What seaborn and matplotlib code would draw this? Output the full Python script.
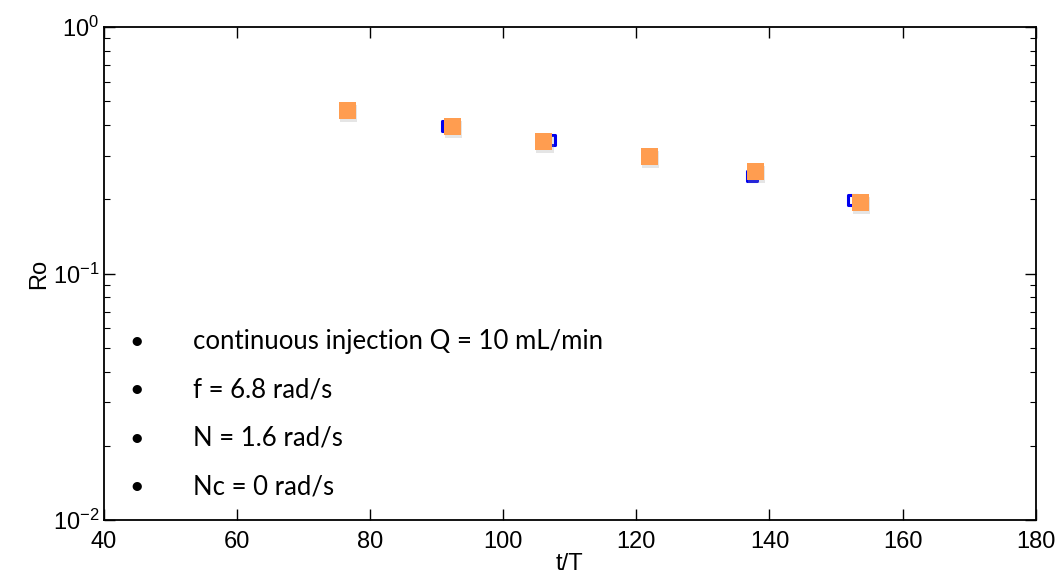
import numpy as np
import pandas as pd
import matplotlib
matplotlib.use("Agg")
import matplotlib.pyplot as plt
import matplotlib.patheffects as pe
from matplotlib.ticker import LogLocator, NullFormatter
import seaborn as sns

# values
t_blue = [76.6, 91.6, 107.0, 122.0, 137.4, 152.6]
ro_blue = [0.457, 0.397, 0.347, 0.298, 0.248, 0.199]
t_orange = [76.6, 92.4, 106.1, 122.0, 137.9, 153.7]
ro_orange = [0.457, 0.395, 0.343, 0.298, 0.259, 0.195]
notes = ["continuous injection Q = 10 mL/min",
         "f = 6.8 rad/s",
         "N = 1.6 rad/s",
         "Nc = 0 rad/s"]

sns.set_style("ticks")
plt.rcParams["font.family"] = ["Liberation Sans", "DejaVu Sans"]
plt.rcParams["mathtext.fontset"] = "custom"
plt.rcParams["mathtext.rm"] = "Liberation Sans"
plt.rcParams["mathtext.it"] = "Liberation Sans:italic"
plt.rcParams["text.color"] = "black"
plt.rcParams["axes.labelcolor"] = "black"
plt.rcParams["xtick.color"] = "black"
plt.rcParams["ytick.color"] = "black"

df_b = pd.DataFrame({"t": t_blue, "ro": ro_blue})
df_o = pd.DataFrame({"t": t_orange, "ro": ro_orange})

fig = plt.figure(figsize=(10.59, 5.8), dpi=100)
ax = fig.add_axes([0.0982, 0.1034, 0.8798, 0.85])

sns.scatterplot(data=df_b, x="t", y="ro", ax=ax, marker="s", s=50,
                facecolor="white", edgecolor="#0000ee", linewidth=2.2, zorder=3)
sc = sns.scatterplot(data=df_o, x="t", y="ro", ax=ax, marker="s", s=150,
                     color="#ff9d50", edgecolor="none", linewidth=0, zorder=4)
sc.collections[-1].set_path_effects([
    pe.SimplePatchShadow(offset=(0.8, -2.2), shadow_rgbFace="#999999", alpha=0.25),
    pe.Normal()])

ax.set_yscale("log")
ax.set_xlim(40, 180)
ax.set_ylim(1e-2, 1e0)
ax.set_xticks(np.arange(40, 181, 20))
ax.yaxis.set_minor_locator(LogLocator(base=10, subs=np.arange(2, 10)))
ax.yaxis.set_minor_formatter(NullFormatter())
ax.tick_params(which="both", direction="in", top=True, right=True,
               labelsize=17, color="black", labelcolor="black")
ax.tick_params(which="major", length=8, width=1)
ax.tick_params(which="minor", length=4, width=0.8)
ax.tick_params(axis="x", pad=8)
for s in ax.spines.values():
    s.set_linewidth(1.3)
    s.set_color("black")

ax.set_xlabel("t/T", fontsize=17, labelpad=0, family="Liberation Sans")
ax.set_ylabel("Ro", fontsize=17, labelpad=2, family="Liberation Sans")
fig.canvas.draw()
for lab in ax.get_xticklabels() + ax.get_yticklabels():
    lab.set_fontfamily("Liberation Sans")

ys = [0.362, 0.264, 0.166, 0.068]
for y, txt in zip(ys, notes):
    ax.text(0.0355, y, "\u2022", transform=ax.transAxes, fontsize=18,
            va="center", ha="center", color="black", family=["Lato", "DejaVu Sans"])
    ax.text(0.0957, y, txt, transform=ax.transAxes, fontsize=18.5,
            va="center", ha="left", color="black", family=["Lato", "DejaVu Sans"])

fig.savefig("out.png", dpi=100)
